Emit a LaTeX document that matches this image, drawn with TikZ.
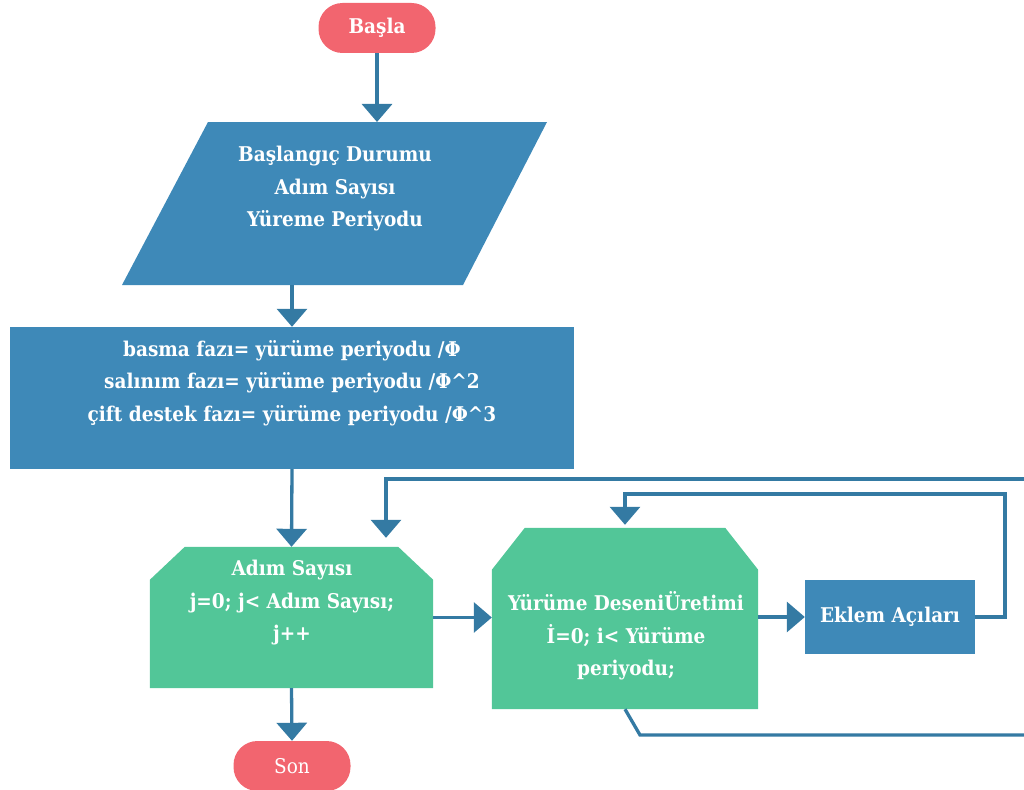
\documentclass[tikz,border=0pt]{standalone}
\usepackage{fontspec}
\setmainfont{DejaVu Serif}[FakeStretch=0.91]
\usetikzlibrary{arrows.meta,calc}
\definecolor{termred}{RGB}{242,101,111}
\definecolor{boxblue}{RGB}{62,137,184}
\definecolor{lineblue}{RGB}{52,122,163}
\definecolor{loopgreen}{RGB}{82,198,152}
\begin{document}
\begin{tikzpicture}[x=1pt,y=-1pt,
  lbl/.style={text=white, font=\bfseries\fontsize{20.3}{32.5}\selectfont, align=center, inner sep=0pt},
  term/.style={fill=termred, rounded corners=24pt, minimum width=117pt, minimum height=50pt, inner sep=0pt, lbl},
  blockbox/.style={fill=boxblue, inner sep=0pt},
  conn/.style={draw=lineblue, line width=3.3pt, -{Triangle[width=30pt,length=18pt]}},
  plainline/.style={draw=lineblue, line width=3.3pt}
]
\useasboundingbox (0,0) rectangle (1024,789);

% start / end
\node[term] (start) at (377,28) {Başla};
\node[term] (son) at (292,766) {\mdseries Son};

% input parallelogram
\coordinate (inN) at (377,122);
\coordinate (inS) at (292,285);
\fill[boxblue] (208,122) -- (547,122) -- (463,285) -- (122,285) -- cycle;
\node[lbl] (intxt) at (335,189) {Başlangıç Durumu\\Adım Sayısı\\Yüreme Periyodu};

% process box
\node[blockbox, minimum width=564pt, minimum height=142pt] (proc) at (292,398) {};
\node[lbl] (proctxt) at (292,383) {basma fazı= yürüme periyodu /Φ\\salınım fazı= yürüme periyodu /Φ\^{}2\\çift destek fazı= yürüme periyodu /Φ\^{}3};

% loop 1
\node[inner sep=0pt, minimum width=283pt, minimum height=141pt] (loop1) at (291.5,617.5) {};
\fill[loopgreen] (loop1.south west) -- ($(loop1.north west)+(0,33)$) -- ($(loop1.north west)+(35,0)$)
  -- ($(loop1.north east)+(-35,0)$) -- ($(loop1.north east)+(0,33)$) -- (loop1.south east) -- cycle;
\node[lbl] (loop1txt) at (292,603) {Adım Sayısı\\j=0; j< Adım Sayısı;\\j++};

% loop 2
\node[inner sep=0pt, minimum width=266pt, minimum height=181pt] (loop2) at (625,618.5) {};
\fill[loopgreen] (loop2.south west) -- ($(loop2.north west)+(0,42)$) -- ($(loop2.north west)+(33,0)$)
  -- ($(loop2.north east)+(-33,0)$) -- ($(loop2.north east)+(0,42)$) -- (loop2.south east) -- cycle;
\node[lbl] (loop2txt) at (626,636) {Yürüme DeseniÜretimi\\İ=0; i< Yürüme\\periyodu;};

% eklem
\node[blockbox, minimum width=170pt, minimum height=74pt, lbl] (eklem) at (890,617) {Eklem Açıları};

% connectors
\draw[conn] (start.south) -- (inN);
\draw[conn] (inS) -- (proc.north);
\draw[conn] (proc.south) -- (loop1.north);
\draw[conn] (loop1.south) -- (son.north);
\draw[conn] (loop1.east) -- (loop1.east -| loop2.west);
\draw[conn] (loop2.east |- eklem.west) -- (eklem.west);
\coordinate (r1) at (1005,494);
\draw[conn] (eklem.east) -| (r1) -| ($(loop2.north)+(0,-3)$);
\coordinate (outTop) at (1024,479);
\draw[conn] (outTop) -| ($(loop1.north)+(94.5,-9)$);
\coordinate (bend) at (640,735);
\coordinate (outBot) at (1024,735);
\draw[plainline] (loop2.south) -- (bend) -- (outBot);
\end{tikzpicture}
\end{document}
